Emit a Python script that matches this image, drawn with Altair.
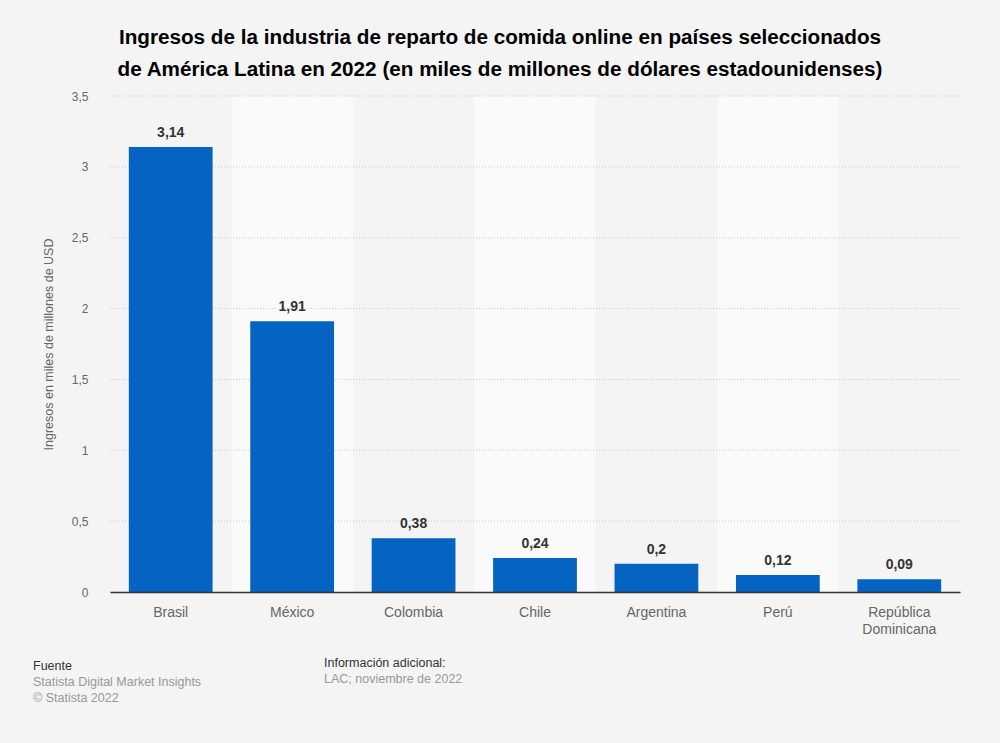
import altair as alt
import pandas as pd

paises = ["Brasil", "México", "Colombia", "Chile", "Argentina", "Perú", "República Dominicana"]
ingresos = [3.14, 1.91, 0.38, 0.24, 0.2, 0.12, 0.09]
ticks_y = [0.5, 1, 1.5, 2, 2.5, 3, 3.5]

titulo = ["Ingresos de la industria de reparto de comida online en países seleccionados",
          "de América Latina en 2022 (en miles de millones de dólares estadounidenses)"]
eje_y = "Ingresos en miles de millones de USD"
fuente = ["Fuente", "Statista Digital Market Insights", "© Statista 2022"]
info = ["Información adicional:", "LAC; noviembre de 2022"]

FONT = "Liberation Sans"
W, H = 850, 496

df = pd.DataFrame({"pais": paises, "valor": ingresos})
df["banda"] = [i % 2 for i in range(len(paises))]
grid_df = pd.DataFrame({"v": ticks_y})

xscale = alt.Scale(domain=paises, paddingInner=0, paddingOuter=0)
yscale = alt.Scale(domain=[0, 3.5], nice=False)

base = alt.Chart(df)

bands = base.mark_rect(color="#fafafa").encode(
    x=alt.X("pais:N", scale=xscale, sort=paises),
    y=alt.value(0), y2=alt.value(H),
).transform_filter("datum.banda == 1")

grid = alt.Chart(grid_df).mark_rule(color="#c8c8c8", strokeDash=[1, 2], strokeWidth=1).encode(
    y=alt.Y("v:Q", scale=yscale),
    x=alt.value(0), x2=alt.value(W),
)

bars = base.mark_bar(color="#0563c1", width=alt.RelativeBandSize(0.69)).encode(
    x=alt.X("pais:N", scale=xscale, sort=paises,
            axis=alt.Axis(title=None, labelFontSize=14, labelColor="#666666", labelFont=FONT,
                          labelAngle=0, labelAlign="center", labelPadding=20, ticks=False,
                          domainColor="#333333", domainWidth=1.5, zindex=1, labelLineHeight=17,
                          labelExpr="datum.label == 'República Dominicana' ? ['República', 'Dominicana'] : datum.label")),
    y=alt.Y("valor:Q", scale=yscale,
            axis=alt.Axis(title=eje_y, values=[0] + ticks_y, grid=False, domain=False, ticks=False,
                          labelFontSize=12, labelColor="#666666", labelFont=FONT, labelPadding=22,
                          labelExpr="replace(toString(datum.value), '.', ',')",
                          titleFontSize=12.5, titleColor="#666666", titleFont=FONT,
                          titleFontWeight="normal", titlePadding=16)),
)

labels = base.mark_text(fontSize=14, fontWeight="bold", color="#333333", font=FONT,
                        baseline="bottom", dy=-7).encode(
    x=alt.X("pais:N", scale=xscale, sort=paises),
    y=alt.Y("valor:Q", scale=yscale),
    text="etiqueta:N",
).transform_calculate(etiqueta="replace(toString(datum.valor), '.', ',')")

foot_df = pd.DataFrame({"t": fuente + info,
                        "k": ["h", "s", "s", "h", "s"]})
foot_df["xx"] = [-77, -77, -77, 214, 214]
foot_df["yy"] = [H + 74, H + 90, H + 106, H + 71, H + 87]

footer = alt.Chart(foot_df).mark_text(align="left", baseline="middle", fontSize=12.5, font=FONT).encode(
    x=alt.X("xx:Q", scale=None),
    y=alt.Y("yy:Q", scale=None),
    text="t:N",
    color=alt.Color("k:N", scale=alt.Scale(domain=["h", "s"], range=["#333333", "#999999"]), legend=None),
)

chart = alt.layer(bands, grid, bars, labels, footer).properties(
    width=W, height=H,
    autosize=alt.AutoSizeParams(type="none"),
    padding={"left": 110, "top": 96, "right": 40, "bottom": 151},
    background="#f4f4f4",
    title=alt.TitleParams(text=titulo, fontSize=20.7, font=FONT, fontWeight="bold", color="#000000",
                          anchor="middle", dx=-35, offset=9, lineHeight=32),
).configure_view(stroke=None)

chart.save("out.html", embed_options={"renderer": "svg", "actions": False})
